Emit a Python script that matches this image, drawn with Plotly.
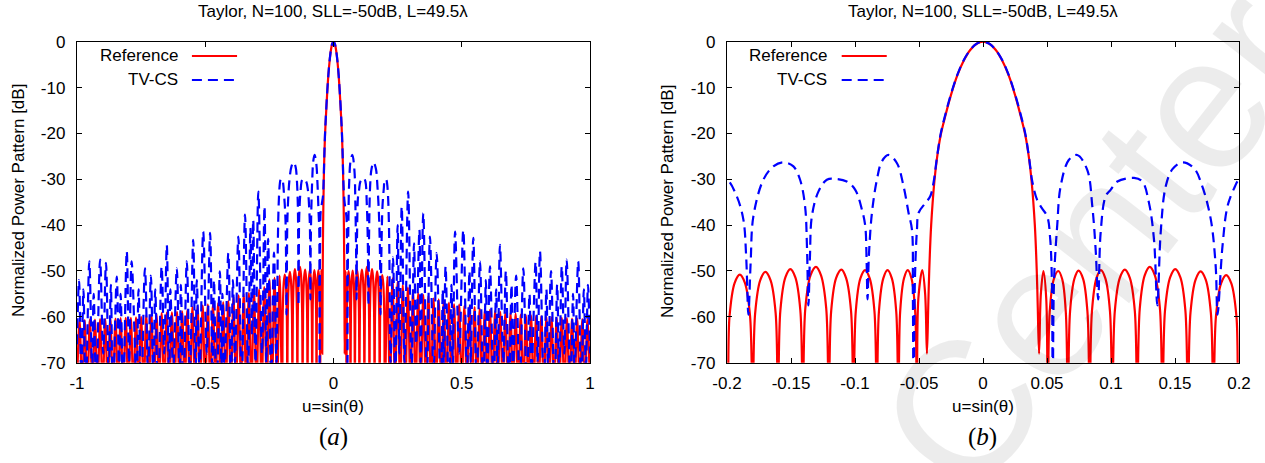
import plotly.graph_objects as go

# ---------------- data ----------------
# Reference (Taylor) pattern: nodes (u, dB) -- nulls, lobe shoulders and peaks
ref_u_left = [-1.00, -0.99, -0.98, -0.97, -0.96, -0.95, -0.94, -0.93, -0.92, -0.91, -0.90, -0.89, -0.88, -0.87,
              -0.86, -0.85, -0.84, -0.83, -0.82, -0.81, -0.80, -0.79, -0.78, -0.77, -0.76, -0.75, -0.74, -0.73,
              -0.72, -0.71, -0.70, -0.69, -0.68, -0.67, -0.66, -0.65, -0.64, -0.63, -0.62, -0.61, -0.60, -0.59,
              -0.58, -0.57, -0.56, -0.55, -0.54, -0.53, -0.52, -0.51, -0.50, -0.49, -0.48, -0.47, -0.46, -0.45,
              -0.44, -0.43, -0.42, -0.41, -0.40, -0.39, -0.38, -0.37, -0.36, -0.35, -0.34, -0.33, -0.32, -0.31,
              -0.30, -0.29, -0.28, -0.27, -0.26, -0.25, -0.24, -0.23, -0.22, -0.21]
ref_db_left = [-76, -60.7, -76, -60.7, -76, -60.6, -76, -60.6, -76, -60.5, -76, -60.5, -76, -60.4,
               -76, -60.4, -76, -60.3, -76, -60.2, -76, -60.2, -76, -60.1, -76, -60.0, -76, -59.6,
               -76, -59.5, -76, -59.4, -76, -59.2, -76, -59.1, -76, -59.0, -76, -58.9, -76, -58.8,
               -76, -58.6, -76, -57.8, -76, -57.6, -76, -57.5, -76, -57.3, -76, -57.2, -76, -57.0,
               -76, -56.8, -76, -56.5, -76, -55.6, -76, -55.3, -76, -55.0, -76, -54.8, -76, -54.4,
               -76, -54.0, -76, -53.5, -76, -51.8, -76, -51.5, -76, -51.0]

ref_u_mid = [-0.2000, -0.1980, -0.1940, -0.1900, -0.1860, -0.1820, -0.1800,
             -0.1780, -0.1740, -0.1700, -0.1660, -0.1620, -0.1602,
             -0.1583, -0.1544, -0.1505, -0.1466, -0.1427, -0.1408,
             -0.1388, -0.1347, -0.1305, -0.1266, -0.1225, -0.1205,
             -0.1186, -0.1147, -0.1106, -0.1070, -0.1031, -0.1012,
             -0.0994, -0.0958, -0.0921, -0.0885, -0.0848, -0.0830,
             -0.0813, -0.0779, -0.0746, -0.0712, -0.0678, -0.0661,
             -0.0647, -0.0617, -0.0588, -0.0559, -0.0530, -0.0516,
             -0.0505, -0.0474, -0.0452, -0.0438,
             -0.0428, -0.0420, -0.0405, -0.0380, -0.0360, -0.0330, -0.0300, -0.0250, -0.0200, -0.0150,
             -0.0100, -0.0050, 0.0000, 0.0050, 0.0100, 0.0150, 0.0200, 0.0250, 0.0300, 0.0330, 0.0360,
             0.0380, 0.0405, 0.0420, 0.0428, 0.0438,
             0.0452, 0.0472, 0.0494, 0.0506,
             0.0521, 0.0553, 0.0588, 0.0619, 0.0647, 0.0663,
             0.0680, 0.0714, 0.0746, 0.0782, 0.0816, 0.0833,
             0.0851, 0.0886, 0.0921, 0.0956, 0.0992, 0.1010,
             0.1030, 0.1069, 0.1108, 0.1147, 0.1186, 0.1205,
             0.1225, 0.1264, 0.1303, 0.1342, 0.1382, 0.1402,
             0.1422, 0.1462, 0.1502, 0.1542, 0.1581, 0.1601,
             0.1621, 0.1661, 0.1700, 0.1740, 0.1780, 0.1800,
             0.1820, 0.1860, 0.1900, 0.1940, 0.1980, 0.2000]
ref_db_mid = [-80, -59.8, -52.6, -50.8, -52.6, -59.8, -80,
              -59.2, -52.0, -50.2, -52.0, -59.2, -80,
              -58.6, -51.4, -49.6, -51.4, -58.6, -80,
              -58.1, -50.9, -49.1, -50.9, -58.1, -80,
              -58.7, -51.5, -49.7, -51.5, -58.7, -80,
              -58.8, -51.6, -49.8, -51.6, -58.8, -80,
              -58.8, -51.6, -49.8, -51.6, -58.8, -80,
              -58.8, -51.6, -49.8, -51.6, -58.8, -80,
              -56.0, -49.8, -55.0, -68.0,
              -58.0, -50.0, -40.0, -30.5, -25.5, -20.3, -16.8, -11.6, -7.3, -4.1,
              -1.8, -0.45, 0.0, -0.45, -1.8, -4.1, -7.3, -11.6, -16.8, -20.3, -25.5,
              -30.5, -40.0, -50.0, -58.0, -68.0,
              -55.0, -50.0, -56.0, -80,
              -59.0, -51.8, -50.0, -51.8, -59.0, -80,
              -58.9, -51.7, -49.9, -51.7, -58.9, -80,
              -58.8, -51.6, -49.8, -51.6, -58.8, -80,
              -58.7, -51.5, -49.7, -51.5, -58.7, -80,
              -58.1, -50.9, -49.1, -50.9, -58.1, -80,
              -58.6, -51.4, -49.6, -51.4, -58.6, -80,
              -59.1, -51.9, -50.1, -51.9, -59.1, -80,
              -59.9, -52.7, -50.9, -52.7, -59.9, -80]

ref_u_right = [0.21, 0.22, 0.23, 0.24, 0.25, 0.26, 0.27, 0.28, 0.29, 0.30, 0.31, 0.32, 0.33, 0.34,
               0.35, 0.36, 0.37, 0.38, 0.39, 0.40, 0.41, 0.42, 0.43, 0.44, 0.45, 0.46, 0.47, 0.48,
               0.49, 0.50, 0.51, 0.52, 0.53, 0.54, 0.55, 0.56, 0.57, 0.58, 0.59, 0.60, 0.61, 0.62,
               0.63, 0.64, 0.65, 0.66, 0.67, 0.68, 0.69, 0.70, 0.71, 0.72, 0.73, 0.74, 0.75, 0.76,
               0.77, 0.78, 0.79, 0.80, 0.81, 0.82, 0.83, 0.84, 0.85, 0.86, 0.87, 0.88, 0.89, 0.90,
               0.91, 0.92, 0.93, 0.94, 0.95, 0.96, 0.97, 0.98, 0.99, 1.00]
ref_db_right = [-51.2, -76, -51.6, -76, -52.3, -76, -53.1, -76, -53.6, -76, -54.3, -76, -54.8, -76,
                -55.2, -76, -55.4, -76, -56.0, -76, -56.2, -76, -56.5, -76, -56.9, -76, -57.2, -76,
                -57.3, -76, -57.6, -76, -57.7, -76, -57.9, -76, -58.2, -76, -58.3, -76, -58.5, -76,
                -58.7, -76, -58.9, -76, -59.1, -76, -59.2, -76, -59.3, -76, -59.5, -76, -59.6, -76,
                -59.7, -76, -59.8, -76, -59.9, -76, -60.0, -76, -60.1, -76, -60.2, -76, -60.2, -76,
                -60.3, -76, -60.4, -76, -60.4, -76, -60.5, -76, -60.5, -76]

# TV-CS pattern nodes (u, dB)
tvcs_u_left = [-1.000, -0.992, -0.983, -0.975, -0.966, -0.952, -0.941, -0.935, -0.925, -0.910, -0.898,
               -0.887, -0.876, -0.868, -0.860, -0.845, -0.836, -0.830, -0.820, -0.806, -0.797, -0.787,
               -0.768, -0.760, -0.750, -0.735, -0.723, -0.712, -0.702, -0.695, -0.684, -0.670, -0.660,
               -0.650, -0.641, -0.636, -0.625, -0.611, -0.600, -0.595, -0.585, -0.572, -0.560, -0.547,
               -0.538, -0.533, -0.522, -0.508, -0.494, -0.481, -0.472, -0.466, -0.456, -0.443, -0.437,
               -0.433, -0.425, -0.410, -0.400, -0.392, -0.384, -0.371, -0.358, -0.345, -0.333, -0.324,
               -0.318, -0.313, -0.304, -0.293, -0.279, -0.269, -0.262, -0.255, -0.243, -0.232, -0.222,
               -0.205]
tvcs_db_left = [-66, -52, -74, -54, -78, -47.9, -72, -55, -76, -47.5, -68,
                -48.2, -74, -53, -78, -51.2, -72, -55, -76, -45.7, -70, -47.9,
                -74, -54, -78, -49.4, -72, -51, -76, -54, -78, -49.0, -68,
                -44.3, -76, -54, -72, -49.4, -76, -53, -78, -47.9, -72, -43.2,
                -76, -52, -72, -41.4, -68, -41.7, -74, -52, -78, -50.1, -72,
                -55, -72, -46.1, -76, -52, -70, -42.5, -75, -37.7, -72, -40.6,
                -64, -38.8, -70, -32.7, -68, -35.9, -70, -43, -74, -46, -70,
                -29.9]

tvcs_u_mid = [-0.1998, -0.1924, -0.1872, -0.1850, -0.1833, -0.1815, -0.1794, -0.1716, -0.1638, -0.1560,
              -0.1481, -0.1429, -0.1390, -0.1375, -0.1364, -0.1352, -0.1337, -0.1286, -0.1220, -0.1155,
              -0.1064, -0.0998, -0.0946, -0.0920, -0.0910, -0.0902, -0.0892, -0.0868, -0.0829, -0.0790,
              -0.0738, -0.0672, -0.0620, -0.0581, -0.0555, -0.0548, -0.0542, -0.0532, -0.0516, -0.0503,
              -0.0451, -0.0412, -0.0385,
              -0.0360, -0.0330, -0.0300, -0.0250, -0.0200, -0.0150, -0.0100, -0.0050, 0.0000, 0.0050,
              0.0100, 0.0150, 0.0200, 0.0250, 0.0300, 0.0330, 0.0360,
              0.0385, 0.0423, 0.0460, 0.0502, 0.0525, 0.0538, 0.0545, 0.0555, 0.0580, 0.0606,
              0.0670, 0.0736, 0.0815, 0.0854, 0.0880, 0.0900, 0.0919, 0.0958, 0.0997, 0.1050,
              0.1180, 0.1245, 0.1297, 0.1336, 0.1362, 0.1388, 0.1427, 0.1480, 0.1558, 0.1649,
              0.1714, 0.1780, 0.1818, 0.1832, 0.1871, 0.1910, 0.1963, 0.2000]
tvcs_db_mid = [-30.1, -33.7, -38.8, -47.0, -59.5, -48.0, -38.1, -30.1, -27.2, -26.3,
               -27.2, -30.1, -35.9, -45.0, -57.5, -47.0, -38.1, -32.7, -30.1, -29.9,
               -30.5, -32.3, -36.6, -40.2, -47.0, -56.2, -47.0, -37.4, -30.1, -26.1,
               -24.7, -26.5, -31.6, -37.4, -41.0, -55.0, -80.0, -52.0, -41.0, -37.3,
               -35.2, -33.7, -30.5,
               -25.3, -20.0, -16.5, -11.4, -7.2, -4.0, -1.8, -0.45, 0.0, -0.45,
               -1.8, -4.0, -7.2, -11.4, -16.5, -20.0, -25.3,
               -30.5, -34.5, -36.3, -38.1, -43.0, -52.0, -80.0, -52.0, -40.0, -31.6,
               -25.8, -24.7, -28.0, -35.9, -45.3, -56.2, -41.7, -33.7, -32.3, -30.5,
               -29.7, -30.5, -35.2, -43.2, -57.5, -41.7, -31.6, -27.8, -26.3, -27.6,
               -31.6, -38.8, -49.0, -59.5, -44.6, -35.9, -31.9, -30.1]

tvcs_u_right = [0.205, 0.222, 0.232, 0.241, 0.250, 0.257, 0.266, 0.277, 0.291, 0.304, 0.314, 0.322,
                0.335, 0.340, 0.350, 0.364, 0.376, 0.390, 0.402, 0.418, 0.426, 0.430, 0.437, 0.450,
                0.460, 0.465, 0.474, 0.490, 0.506, 0.520, 0.530, 0.535, 0.545, 0.558, 0.571, 0.584,
                0.594, 0.600, 0.610, 0.624, 0.634, 0.640, 0.649, 0.662, 0.672, 0.684, 0.694, 0.700,
                0.712, 0.726, 0.740, 0.754, 0.764, 0.772, 0.788, 0.796, 0.805, 0.820, 0.830, 0.837,
                0.848, 0.862, 0.872, 0.880, 0.890, 0.900, 0.909, 0.924, 0.934, 0.940, 0.954, 0.966,
                0.976, 0.984, 0.992, 1.000]
tvcs_db_right = [-30.0, -70, -47, -74, -40, -68, -35.9, -70, -32.7, -72, -44, -66,
                 -41, -70, -37.4, -74, -42.5, -72, -46.1, -76, -54, -72, -49.0, -78,
                 -53, -72, -41.4, -68, -41.1, -72, -50, -70, -42.8, -76, -47.9, -78,
                 -52, -72, -49.0, -76, -54, -72, -44.3, -70, -50, -78, -53, -72,
                 -51, -76, -49.4, -78, -55, -72, -48, -70, -45.7, -76, -54, -72,
                 -50, -78, -53, -72, -49, -68, -47.5, -76, -55, -72, -47.9, -78,
                 -54, -72, -53, -68]

ref_u = ref_u_left + ref_u_mid + ref_u_right
ref_db = ref_db_left + ref_db_mid + ref_db_right
tvcs_u = tvcs_u_left + tvcs_u_mid + tvcs_u_right
tvcs_db = tvcs_db_left + tvcs_db_mid + tvcs_db_right

title_text = "Taylor, N=100, SLL=-50dB, L=49.5λ"
series_names = ["Reference", "TV-CS"]
y_ticks = [-70, -60, -50, -40, -30, -20, -10, 0]
y_labels = ["-70", "-60", "-50", "-40", "-30", "-20", "-10", "0"]
xa_ticks = [-1, -0.5, 0, 0.5, 1]
xa_labels = ["-1", "-0.5", "0", "0.5", "1"]
xb_ticks = [-0.2, -0.15, -0.1, -0.05, 0, 0.05, 0.1, 0.15, 0.2]
xb_labels = ["-0.2", "-0.15", "-0.1", "-0.05", "0", "0.05", "0.1", "0.15", "0.2"]

# ---------------- figure ----------------
W, H = 1265, 463
FONT = "Liberation Sans, Arial, Helvetica, sans-serif"
FS = 17
RED = "#ff0000"
BLUE = "#0000ff"
DASH = "10px,6px"

fig = go.Figure()
for xa, ya in (("x", "y"), ("x2", "y2")):
    fig.add_trace(go.Scatter(x=ref_u, y=ref_db, mode="lines", name=series_names[0],
                             line=dict(color=RED, width=2.2, shape="spline", smoothing=1),
                             xaxis=xa, yaxis=ya, showlegend=False))
    fig.add_trace(go.Scatter(x=tvcs_u, y=tvcs_db, mode="lines", name=series_names[1],
                             line=dict(color=BLUE, width=2.2, dash=DASH, shape="spline", smoothing=1),
                             xaxis=xa, yaxis=ya, showlegend=False))

def px_x(v):
    return v / W

def px_y(v):
    return 1 - v / H

ydom = [px_y(362.7), px_y(41.7)]
common = dict(showline=True, linecolor="black", linewidth=1.4, mirror="ticks", ticks="inside",
              ticklen=5, tickwidth=1, tickcolor="black", showgrid=False, zeroline=False,
              automargin=False, tickfont=dict(family=FONT, size=FS, color="black"))

fig.update_layout(
    template=None,
    width=W, height=H, margin=dict(l=0, r=0, t=0, b=0, pad=0, autoexpand=False),
    paper_bgcolor="white", plot_bgcolor="white",
    xaxis=dict(domain=[px_x(77), px_x(590)], range=[-1, 1], tickvals=xa_ticks, ticktext=xa_labels,
               anchor="y", ticklabelstandoff=5, **common),
    yaxis=dict(domain=ydom, range=[-70, 0], tickvals=y_ticks, ticktext=y_labels, anchor="x",
               ticklabelstandoff=7, **common),
    xaxis2=dict(domain=[px_x(727), px_x(1239)], range=[-0.2, 0.2], tickvals=xb_ticks, ticktext=xb_labels,
                anchor="y2", ticklabelstandoff=5, **common),
    yaxis2=dict(domain=ydom, range=[-70, 0], tickvals=y_ticks, ticktext=y_labels, anchor="x2",
                ticklabelstandoff=7, **common),
    showlegend=False,
)

ann = []
shapes = []
for cx, ylx, xd, yd, letter in ((333.5, 18, "x domain", "y domain", "a"),
                                (983, 667, "x2 domain", "y2 domain", "b")):
    ann.append(dict(text=title_text, x=px_x(cx), y=px_y(11), xref="paper", yref="paper",
                    showarrow=False, font=dict(family=FONT, size=FS, color="black"),
                    xanchor="center", yanchor="middle"))
    ann.append(dict(text="u=sin(θ)", x=px_x(cx), y=px_y(406.5), xref="paper", yref="paper",
                    showarrow=False, font=dict(family=FONT, size=FS, color="black"),
                    xanchor="center", yanchor="middle"))
    ann.append(dict(text="Normalized Power Pattern [dB]", x=px_x(ylx), y=px_y(201), xref="paper",
                    yref="paper", showarrow=False, textangle=-90,
                    font=dict(family=FONT, size=FS, color="black"), xanchor="center", yanchor="middle"))
    ann.append(dict(text="(<i>%s</i>)" % letter, x=px_x(cx), y=px_y(437), xref="paper", yref="paper",
                    showarrow=False, font=dict(family="Liberation Serif, DejaVu Serif, serif", size=25,
                                               color="black"),
                    xanchor="center", yanchor="middle"))
    # legend (gnuplot style: text on the left, sample on the right)
    for i, (nm, col, dash) in enumerate(((series_names[0], RED, "solid"), (series_names[1], BLUE, DASH))):
        yy = 0.9555 - i * 0.0748
        ann.append(dict(text=nm, x=0.2, y=yy, xref=xd, yref=yd, showarrow=False,
                        font=dict(family=FONT, size=FS, color="black"), xanchor="right", yanchor="middle"))
        shapes.append(dict(type="line", xref=xd, yref=yd, x0=0.224, x1=0.312, y0=yy, y1=yy,
                           line=dict(color=col, width=2.2, dash=dash)))

# faint watermark
ann.append(dict(text="Center", x=px_x(1095), y=px_y(240), xref="paper", yref="paper", showarrow=False,
                textangle=-52, font=dict(family=FONT, size=190, color="rgba(0,0,0,0.075)"),
                xanchor="center", yanchor="middle"))

fig.update_layout(annotations=ann, shapes=shapes)
fig.write_html("out.html")
